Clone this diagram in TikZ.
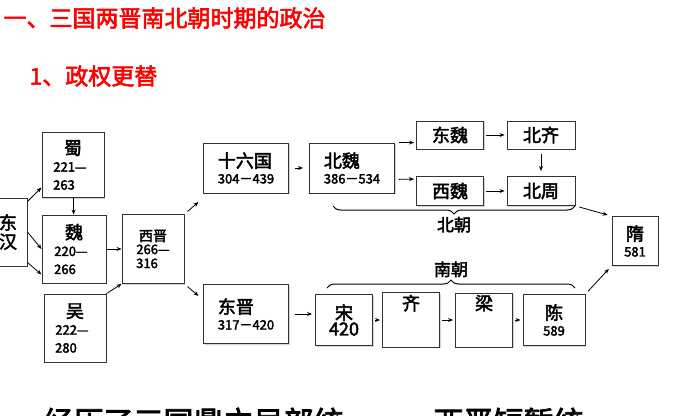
\documentclass[tikz,border=0pt]{standalone}
\usepackage{fontspec}
\setmainfont{Noto Sans CJK SC}[AutoFakeBold=2.5]
\usetikzlibrary{arrows.meta,shadows,decorations.pathreplacing}
\newcommand\yrs{\bfseries\fontsize{13}{14}\selectfont}
\tikzset{
	box/.style = {draw=black!80, line width=0.9pt, fill=white, inner sep=2pt,
		drop shadow={shadow xshift=1.2pt, shadow yshift=-1.2pt, opacity=.35},
		align=center, font=\bfseries\fontsize{18}{19}\selectfont},
	link/.style = {-{Stealth[length=5pt,width=4pt]}, line width=0.8pt},
	brace/.style = {decorate, decoration={brace, amplitude=8pt}, line width=1pt},
	title/.style = {text=red, anchor=west, font=\bfseries\fontsize{23}{24}\selectfont},
}
\begin{document}
\begin{tikzpicture}[x=1pt,y=-1pt]
\useasboundingbox (0,0) rectangle (700,415);
\clip (0,0) rectangle (700,415);
% titles
\node[title] (t1) at (0,18) {一、三国两晋南北朝时期的政治};
\node[title] (t2) at (26,76) {1、政权更替};
% three kingdoms
\node[box, minimum width=38pt, minimum height=68pt] (dh) at (8,232) {东\\汉};
\node[box, minimum width=62pt, minimum height=65pt] (shu) at (73,165)
	{蜀\\[-2pt]\hspace*{-6pt}{\yrs 221—}\\[-1pt]\hspace*{-18pt}{\yrs 263}};
\node[box, minimum width=64pt, minimum height=68pt] (wei) at (74,249)
	{魏\\[-2pt]\hspace*{-6pt}{\yrs 220—}\\[-1pt]\hspace*{-18pt}{\yrs 266}};
\node[box, minimum width=62pt, minimum height=68pt] (wu) at (75,328)
	{吴\\[-2pt]\hspace*{-6pt}{\yrs 222—}\\[-1pt]\hspace*{-18pt}{\yrs 280}};
\node[box, minimum width=62pt, minimum height=69pt, font=\bfseries\fontsize{14}{15}\selectfont] (xj) at (153,249)
	{西晋\\[-2pt]{\yrs 266—}\\[-1pt]\hspace*{-12pt}{\yrs 316}};
% north and south
\node[box, minimum width=85pt, minimum height=50pt, align=left] (slg) at (246,168)
	{十六国\\[-3pt]{\yrs 304－439}};
\node[box, minimum width=85pt, minimum height=50pt, align=left] (bw) at (352,168)
	{北魏\\[-3pt]{\yrs 386－534}};
\node[box, minimum width=67pt, minimum height=28pt] (dw) at (450,135) {东魏};
\node[box, minimum width=68pt, minimum height=28pt] (bq) at (541,135) {北齐};
\node[box, minimum width=67pt, minimum height=29pt] (xw) at (450,191) {西魏};
\node[box, minimum width=68pt, minimum height=29pt] (bz) at (541,191) {北周};
\node[box, minimum width=46pt, minimum height=49pt] (sui) at (635,241) {隋\\[-3pt]{\yrs 581}};
\node[box, minimum width=85pt, minimum height=59pt, align=left] (djin) at (246,314)
	{东晋\\[-3pt]{\yrs 317－420}};
\node[box, minimum width=57pt, minimum height=51pt] (song) at (344,320) {宋\\[-3pt]420};
\node[box, minimum width=57pt, minimum height=51pt] (qi) at (411,320) {齐\\[16pt]};
\node[box, minimum width=57pt, minimum height=51pt] (liang) at (484,320) {梁\\[16pt]};
\node[box, minimum width=62pt, minimum height=51pt] (chen) at (554,320) {陈\\[-3pt]{\yrs 589}};
% braces
\coordinate (nbl) at (333,206);
\coordinate (nbr) at (575,206);
\draw[brace] (nbr) -- node[below=7pt, font=\bfseries\fontsize{17}{18}\selectfont] (bc) {北朝} (nbl);
\coordinate (nbl2) at (327,288);
\coordinate (nbr2) at (575,288);
\draw[brace] (nbl2) -- node[above=7pt, font=\bfseries\fontsize{17}{18}\selectfont] (nc) {南朝} (nbr2);
% links
\draw[link] (dh.north east) ++(0,4) -- ++(14,-14);
\draw[link] (dh.east) -- (wei.west);
\draw[link] (dh.south east) ++(0,-4) -- ++(14,12);
\draw[link] (shu) -- (wei);
\draw[link] (wei) -- (xj);
\draw[link] (wu.north east) -- (xj.south west);
\draw[link, shorten <=4pt] (xj.north east) -- ++(14,-12);
\draw[link, shorten <=4pt] (xj.south east) -- ++(14,12);
\draw[link, shorten <=6pt, shorten >=6pt] (slg) -- (bw);
\draw[link, shorten <=4pt, shorten >=2pt] (bw.north east) -- (dw.west |- bw.north);
\draw[link, shorten <=4pt, shorten >=2pt] (bw.south east) ++(0,-14) -- (xw.west |- 0,179);
\draw[link, shorten <=2pt, shorten >=2pt] (dw) -- (bq);
\draw[link, shorten <=2pt, shorten >=2pt] (xw) -- (bz);
\draw[link, shorten <=5pt, shorten >=5pt] (bq) -- (bz);
\draw[link, shorten <=4pt, shorten >=4pt] (bz.south east) -- (sui.north west);
\draw[link, shorten <=4pt, shorten >=4pt] (chen.north east) -- (sui.south west);
\draw[link, shorten <=6pt, shorten >=3pt] (djin) -- (song.west |- djin);
\draw[link, shorten <=2pt, shorten >=2pt] (song) -- (qi);
\draw[link, shorten <=2pt, shorten >=2pt] (qi) -- (liang);
\draw[link, shorten <=2pt, shorten >=2pt] (liang) -- (chen);
% bottom line
\node[anchor=west, font=\bfseries\fontsize{30}{32}\selectfont] (bot) at (40,422)
	{经历了三国鼎立局部统一，\quad 西晋短暂统一};
\end{tikzpicture}
\end{document}
